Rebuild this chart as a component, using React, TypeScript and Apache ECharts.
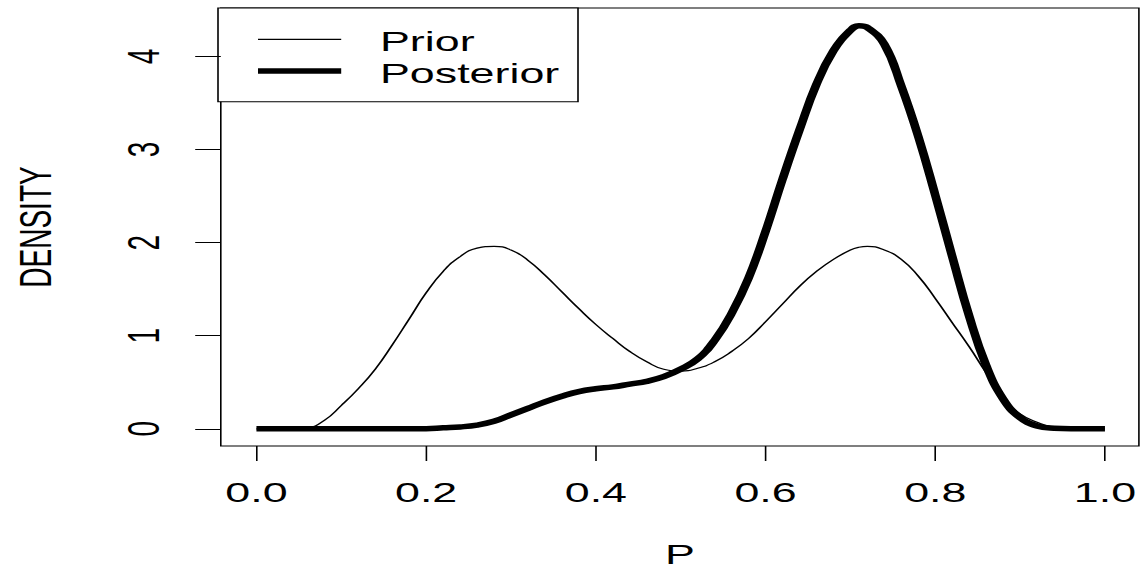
import React, { useEffect, useRef } from "react";
import * as echarts from "echarts";

// Horizontal grid of P values
const pGrid = [
  0.0, 0.02, 0.04, 0.06, 0.08, 0.1, 0.12, 0.14, 0.16, 0.18, 0.2, 0.22, 0.24, 0.26, 0.28, 0.3,
  0.32, 0.34, 0.36, 0.38, 0.4, 0.42, 0.44, 0.46, 0.48, 0.5, 0.52, 0.54, 0.56, 0.58, 0.6, 0.62,
  0.64, 0.66, 0.68, 0.7, 0.71, 0.72, 0.74, 0.76, 0.78, 0.8, 0.82, 0.84, 0.86, 0.88, 0.9, 0.92,
  0.94, 0.96, 0.98, 1.0,
];

const priorDensity = [
  0, 0, 0, 0.01, 0.09, 0.25, 0.43, 0.64, 0.9, 1.18, 1.46, 1.69, 1.85, 1.94, 1.96, 1.92,
  1.81, 1.65, 1.47, 1.29, 1.12, 0.97, 0.83, 0.72, 0.64, 0.62, 0.65, 0.72, 0.83, 0.97, 1.15, 1.34,
  1.53, 1.69, 1.82, 1.92, 1.95, 1.96, 1.92, 1.82, 1.64, 1.4, 1.14, 0.88, 0.6, 0.33, 0.16, 0.07,
  0.015, 0, 0, 0,
];

const posteriorDensity = [
  0, 0, 0, 0, 0, 0, 0, 0, 0, 0, 0, 0.01, 0.02, 0.04, 0.08, 0.15,
  0.22, 0.29, 0.35, 0.4, 0.43, 0.45, 0.48, 0.51, 0.56, 0.64, 0.75, 0.95, 1.24, 1.62, 2.12, 2.68,
  3.21, 3.7, 4.06, 4.28, 4.33, 4.31, 4.13, 3.68, 3.14, 2.51, 1.85, 1.21, 0.68, 0.32, 0.12, 0.03,
  0.005, 0, 0, 0,
];

const xTicks = [0, 0.2, 0.4, 0.6, 0.8, 1.0];
const yTicks = [0, 1, 2, 3, 4];
const legendNames = ["Prior", "Posterior"];

const FONT = "'Liberation Sans', Arial, sans-serif";
const STRETCH = 1.6;
const W = 713;
const H = 573;

export default function App() {
  const ref = useRef<HTMLDivElement>(null);

  useEffect(() => {
    if (!ref.current) return;
    const chart = echarts.init(ref.current, null, { renderer: "svg" });
    const gridLeft = 136.25;
    const gridTop = 8;
    const gridH = 443;
    const gridW = 578.5;

    chart.setOption({
      animation: false,
      backgroundColor: "#fff",
      grid: {
        left: gridLeft,
        top: gridTop,
        width: gridW,
        height: gridH,
        show: true,
        borderColor: "#000",
        borderWidth: 1,
        backgroundColor: "transparent",
      },
      xAxis: {
        type: "value",
        min: -0.042,
        max: 1.04,
        name: "P",
        nameLocation: "middle",
        nameGap: 94,
        nameTextStyle: { fontFamily: FONT, fontSize: 28, color: "#000" },
        axisLine: { show: false, onZero: false },
        splitLine: { show: false },
        axisTick: {
          show: true,
          length: 15,
          customValues: xTicks,
          lineStyle: { color: "#000", width: 1 },
        },
        axisLabel: {
          customValues: xTicks,
          formatter: (v: number) => v.toFixed(1),
          fontFamily: FONT,
          fontSize: 28,
          color: "#000",
          margin: 32,
        },
      },
      yAxis: {
        type: "value",
        min: -0.185,
        max: 4.52,
        name: "DENSITY",
        nameLocation: "middle",
        nameRotate: 90,
        nameGap: 102,
        nameTextStyle: { fontFamily: FONT, fontSize: 28, color: "#000" },
        axisLine: { show: false, onZero: false },
        splitLine: { show: false },
        axisTick: {
          show: true,
          length: 16,
          customValues: yTicks,
          lineStyle: { color: "#000", width: 1 },
        },
        axisLabel: {
          customValues: yTicks,
          rotate: 90,
          fontFamily: FONT,
          fontSize: 28,
          color: "#000",
          margin: 34.5,
        },
      },
      series: [
        {
          name: legendNames[0],
          type: "line",
          data: pGrid.map((x, i) => [x, priorDensity[i]]),
          showSymbol: false,
          symbol: "none",
          smooth: 0.5,
          lineStyle: { color: "#000", width: 1.2 },
          z: 2,
        },
        {
          name: legendNames[1],
          type: "line",
          data: pGrid.map((x, i) => [x, posteriorDensity[i]]),
          showSymbol: false,
          symbol: "none",
          smooth: 0.45,
          lineStyle: { color: "#000", width: 5.5 },
          z: 3,
        },
      ],
      graphic: [
        {
          type: "group",
          z: 100,
          children: [
            {
              type: "rect",
              shape: { x: gridLeft, y: gridTop, width: 225, height: 93.7 },
              style: { fill: "#fff", stroke: "#000", lineWidth: 1 },
            },
            {
              type: "line",
              shape: { x1: 161.25, y1: 39.3, x2: 213.25, y2: 39.3 },
              style: { stroke: "#000", lineWidth: 1.2 },
            },
            {
              type: "line",
              shape: { x1: 161.25, y1: 71, x2: 213.25, y2: 71 },
              style: { stroke: "#000", lineWidth: 5.5 },
            },
            {
              type: "text",
              x: 237.5,
              y: 41.7,
              style: {
                text: legendNames[0],
                fontFamily: FONT,
                fontSize: 28,
                fill: "#000",
                verticalAlign: "middle",
                align: "left",
              },
            },
            {
              type: "text",
              x: 237.5,
              y: 73.3,
              style: {
                text: legendNames[1],
                fontFamily: FONT,
                fontSize: 28,
                fill: "#000",
                verticalAlign: "middle",
                align: "left",
              },
            },
          ],
        },
      ],
    });
    return () => chart.dispose();
  }, []);

  return (
    <div
      style={{
        position: "absolute",
        left: 0,
        top: 0,
        width: W * STRETCH,
        height: H,
        overflow: "hidden",
        background: "#fff",
      }}
    >
      <div
        ref={ref}
        style={{
          width: W,
          height: H,
          transform: `scaleX(${STRETCH})`,
          transformOrigin: "0 0",
        }}
      />
    </div>
  );
}
